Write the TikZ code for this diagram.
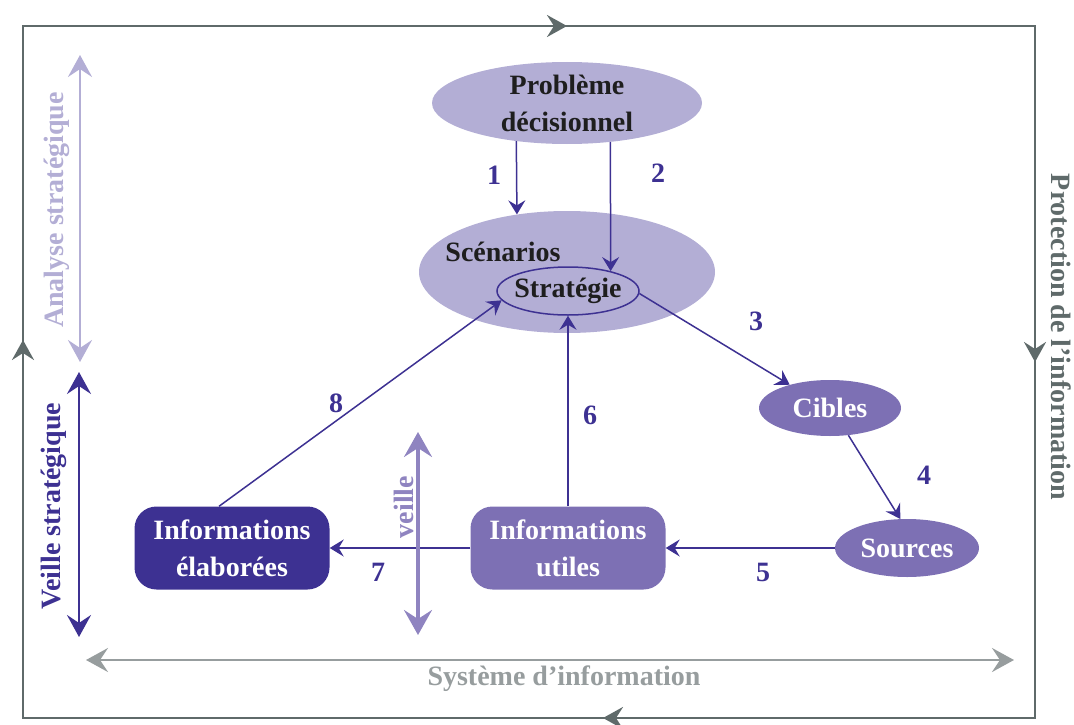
\documentclass[tikz,border=0pt]{standalone}
\usepackage{fontspec}
\setmainfont{Liberation Serif}
\usepackage{tikz}
\usetikzlibrary{calc}
\usetikzlibrary{arrows.meta}
\usetikzlibrary{shapes}
\usetikzlibrary{positioning}
\usetikzlibrary{decorations.markings}

\definecolor{lila}{HTML}{B3AED5}
\definecolor{mauve}{HTML}{7D70B4}
\definecolor{violetfonce}{HTML}{3D3192}
\definecolor{veillec}{HTML}{8F84C0}
\definecolor{cadre}{HTML}{5F6A6A}
\definecolor{sysgris}{HTML}{979D9E}
\definecolor{encre}{HTML}{1E1E1E}

\tikzset{
  txt/.style={font=\fontsize{28}{37}\selectfont\bfseries, align=center, inner sep=0pt},
  bulle/.style={ellipse, fill=lila, inner sep=0pt},
  cible/.style={ellipse, fill=mauve, inner sep=0pt, txt, text=white},
  boite/.style={rectangle, rounded corners=22pt, minimum width=195pt, minimum height=83pt, txt, text=white},
  fl/.style={draw=violetfonce, line width=1.5pt, -{Stealth[length=14pt,width=17pt,inset=5pt]}},
  num/.style={txt, text=violetfonce},
  axe/.style={line width=2.8pt, {Stealth[length=22pt,width=24pt,inset=8pt]}-{Stealth[length=22pt,width=24pt,inset=8pt]}},
}

\begin{document}
\begin{tikzpicture}[x=1pt,y=-1pt]
\useasboundingbox (0,0) rectangle (1074,725);

% cadre
\draw[cadre, line width=2.8pt, decoration={markings,
    mark=at position 378pt with {\arrow{Stealth[length=20pt,width=22pt,inset=7pt]}},
    mark=at position 1236pt with {\arrow{Stealth[length=20pt,width=22pt,inset=7pt]}},
    mark=at position 2040pt with {\arrow{Stealth[length=20pt,width=22pt,inset=7pt]}},
    mark=at position 2828pt with {\arrow{Stealth[length=20pt,width=22pt,inset=7pt]}}},
    postaction={decorate}]
  (23,718) -- (23,26) -- (1035,26) -- (1035,718) -- cycle;

% noeuds
\draw (567,103) node[bulle, minimum width=270pt, minimum height=82pt](prob){};
\draw (prob) node[txt, text=encre](probtxt){Problème\\décisionnel};
\draw (567,272) node[bulle, minimum width=296pt, minimum height=122pt](scen){};
\draw (503,252) node[txt, text=encre](scentxt){Scénarios};
\draw (568,291) node[ellipse, draw=violetfonce, line width=1.5pt, inner sep=0pt, minimum width=142pt, minimum height=48pt](strat){};
\draw (strat) node[txt, text=encre](strattxt){Stratégie};
\draw (830,408) node[cible, minimum width=142pt, minimum height=56pt](cib){Cibles};
\draw (907,548) node[cible, minimum width=144pt, minimum height=58pt](src){Sources};
\draw (568,548) node[boite, fill=mauve](util){Informations\\utiles};
\draw (232,548) node[boite, fill=violetfonce](elab){Informations\\élaborées};

% fleches
\draw[fl] (prob.217) -- (scen.131);
\draw[fl] (prob.-42) -- (strat.25);
\draw[fl] (strat.-2) -- (cib.150);
\draw[fl] (cib.-56) -- (src.103);
\draw[fl] (src.west) -- (util.east);
\draw[fl] (util.west) -- (elab.east);
\draw[fl] (util.north) -- (strat.south);
\draw[fl] ([xshift=-13pt]elab.north) -- (strat.188);

% numeros
\draw (494,175) node[num](n1){1};
\draw (658,173) node[num](n2){2};
\draw (756,321) node[num](n3){3};
\draw (924,475) node[num](n4){4};
\draw (763,572) node[num](n5){5};
\draw (590,415) node[num](n6){6};
\draw (378,572) node[num](n7){7};
\draw (336,403) node[num](n8){8};

% axes
\coordinate (ana1) at (80,55);
\coordinate (ana2) at (80,362);
\draw[axe, lila] (ana1) -- (ana2);
\draw (57,210) node[txt, rotate=90, text=lila](anatxt){Analyse stratégique};
\coordinate (vs1) at (79,372);
\coordinate (vs2) at (79,637);
\draw[axe, violetfonce] (vs1) -- (vs2);
\draw (54,506) node[txt, rotate=90, text=violetfonce](vstxt){Veille stratégique};
\coordinate (ve1) at (418,432);
\coordinate (ve2) at (418,635);
\draw[axe, veillec, line width=3.2pt, {Stealth[length=25pt,width=28pt,inset=9pt]}-{Stealth[length=25pt,width=28pt,inset=9pt]}] (ve1) -- (ve2);
\draw (404,507) node[txt, rotate=90, text=veillec](vetxt){veille};
\coordinate (si1) at (86,660);
\coordinate (si2) at (1014,660);
\draw[axe, sysgris] (si1) -- (si2);
\draw (564,679) node[txt, text=sysgris](sitxt){Système d’information};
\draw (1061,337) node[txt, rotate=-90, text=cadre](prottxt){Protection de l’information};
\end{tikzpicture}
\end{document}
